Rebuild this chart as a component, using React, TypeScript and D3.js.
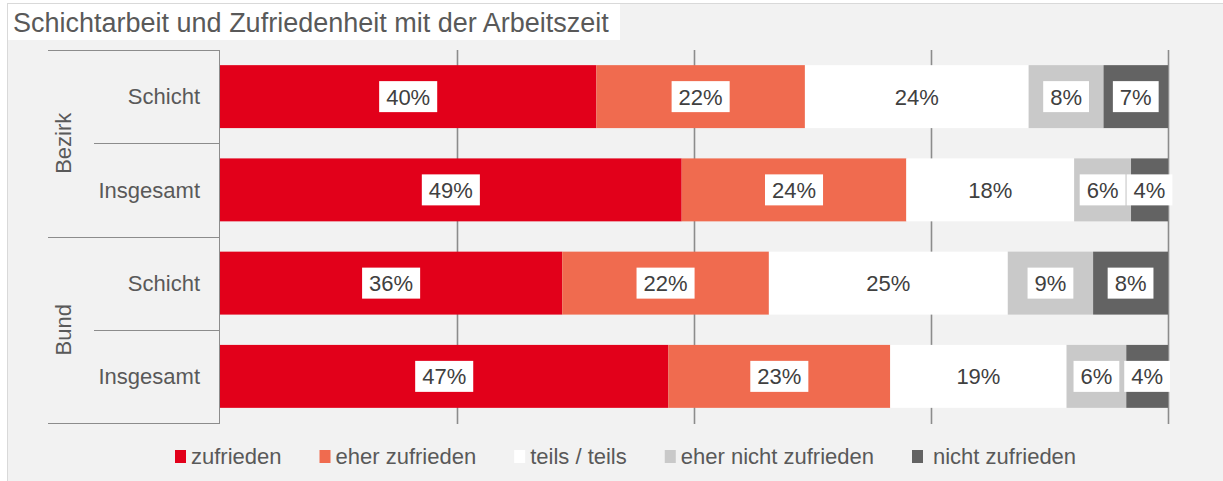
import React, { useEffect, useRef } from "react";
import * as d3 from "d3";

const title = "Schichtarbeit und Zufriedenheit mit der Arbeitszeit";
const groups = ["Bezirk", "Bund"];
const rowGroups = ["Bezirk", "Bezirk", "Bund", "Bund"];
const rowLabels = ["Schicht", "Insgesamt", "Schicht", "Insgesamt"];
const seriesNames = ["zufrieden", "eher zufrieden", "teils / teils", "eher nicht zufrieden", "nicht zufrieden"];
const seriesColors = ["#e2001a", "#f06b4f", "#ffffff", "#c9c9c9", "#636363"];
// values per row (percent), order: zufrieden, eher zufrieden, teils/teils, eher nicht, nicht
const bezirkSchicht = [39.7, 22.0, 23.6, 7.9, 6.8];
const bezirkInsgesamt = [48.7, 23.7, 17.7, 6.0, 3.9];
const bundSchicht = [36.1, 21.8, 25.2, 9.0, 7.9];
const bundInsgesamt = [47.3, 23.4, 18.6, 6.3, 4.4];
const labelsBezirkSchicht = ["40%", "22%", "24%", "8%", "7%"];
const labelsBezirkInsgesamt = ["49%", "24%", "18%", "6%", "4%"];
const labelsBundSchicht = ["36%", "22%", "25%", "9%", "8%"];
const labelsBundInsgesamt = ["47%", "23%", "19%", "6%", "4%"];
const xTicks = [0, 25, 50, 75, 100];

const W = 1223;
const H = 481;
const FONT = "'Liberation Sans', Arial, Helvetica, sans-serif";

export default function App() {
  const ref = useRef<SVGSVGElement | null>(null);

  useEffect(() => {
    const svg = d3.select(ref.current);
    svg.selectAll("*").remove();

    const rowsValues = [bezirkSchicht, bezirkInsgesamt, bundSchicht, bundInsgesamt];
    const rowsLabels = [labelsBezirkSchicht, labelsBezirkInsgesamt, labelsBundSchicht, labelsBundInsgesamt];

    const x = d3.scaleLinear().domain([0, 100]).range([220, 1168]);
    const y = d3
      .scaleBand<number>()
      .domain(d3.range(rowLabels.length))
      .range([50, 423])
      .paddingInner(0.325)
      .paddingOuter(0.1625);
    const step = y.step();

    // background
    svg.append("rect").attr("x", 0).attr("y", 0).attr("width", W).attr("height", H).attr("fill", "#ffffff");
    svg
      .append("rect")
      .attr("x", 7.5)
      .attr("y", 3.5)
      .attr("width", W - 7)
      .attr("height", H - 3)
      .attr("fill", "#f2f2f2")
      .attr("stroke", "#d9d9d9")
      .attr("stroke-width", 1);

    // title
    svg.append("rect").attr("x", 8).attr("y", 4).attr("width", 612).attr("height", 36).attr("fill", "#ffffff");
    svg
      .append("text")
      .attr("x", 13)
      .attr("y", 32)
      .attr("font-family", FONT)
      .attr("font-size", 27)
      .attr("fill", "#595959")
      .text(title);

    // gridlines
    svg
      .append("g")
      .selectAll("line")
      .data(xTicks.slice(1))
      .join("line")
      .attr("x1", (d) => x(d) + 0.5)
      .attr("x2", (d) => x(d) + 0.5)
      .attr("y1", 50)
      .attr("y2", 424)
      .attr("stroke", "#8c8c8c")
      .attr("stroke-width", 1.6);

    // category axis
    const ax = svg.append("g").attr("stroke", "#8c8c8c").attr("stroke-width", 1);
    ax.append("line").attr("x1", 219.5).attr("x2", 219.5).attr("y1", 50).attr("y2", 423.5);
    const r0 = y.range()[0];
    for (let i = 0; i <= rowLabels.length; i++) {
      const yy = Math.round(r0 + i * step) + 0.5;
      const isGroupEdge = i === 0 || i === rowLabels.length || rowGroups[i] !== rowGroups[i - 1];
      ax.append("line")
        .attr("x1", isGroupEdge ? 48 : 94)
        .attr("x2", 220)
        .attr("y1", yy)
        .attr("y2", yy);
    }

    // row labels
    svg
      .append("g")
      .selectAll("text")
      .data(rowLabels)
      .join("text")
      .attr("x", 200)
      .attr("y", (_d, i) => (y(i) as number) + y.bandwidth() / 2)
      .attr("dy", "0.35em")
      .attr("text-anchor", "end")
      .attr("font-family", FONT)
      .attr("font-size", 22)
      .attr("fill", "#595959")
      .text((d) => d);

    // group labels
    groups.forEach((g) => {
      const idx = rowGroups.map((rg, i) => (rg === g ? i : -1)).filter((i) => i >= 0);
      const cy = r0 + ((idx[0] + idx[idx.length - 1] + 1) / 2) * step;
      svg
        .append("text")
        .attr("transform", `translate(63,${cy}) rotate(-90)`)
        .attr("dy", "0.35em")
        .attr("text-anchor", "middle")
        .attr("font-family", FONT)
        .attr("font-size", 22)
        .attr("fill", "#595959")
        .text(g);
    });

    // bars
    const bars = svg.append("g");
    rowsValues.forEach((vals, i) => {
      let acc = 0;
      vals.forEach((v, j) => {
        const x0 = x(acc);
        const x1 = j === vals.length - 1 ? x(100) : x(acc + v);
        bars
          .append("rect")
          .attr("x", x0)
          .attr("y", y(i) as number)
          .attr("width", x1 - x0)
          .attr("height", y.bandwidth())
          .attr("fill", seriesColors[j]);
        acc += v;
      });
    });

    // labels
    const lab = svg.append("g");
    rowsValues.forEach((vals, i) => {
      let acc = 0;
      vals.forEach((v, j) => {
        const end = j === vals.length - 1 ? 100 : acc + v;
        const cx = (x(acc) + x(end)) / 2;
        const cy = (y(i) as number) + y.bandwidth() / 2;
        const gg = lab.append("g");
        const rect = gg.append("rect").attr("fill", "#ffffff");
        const t = gg
          .append("text")
          .attr("x", cx)
          .attr("y", cy)
          .attr("dy", "0.36em")
          .attr("text-anchor", "middle")
          .attr("font-family", FONT)
          .attr("font-size", 22)
          .attr("fill", "#404040")
          .text(rowsLabels[i][j]);
        const tw = (t.node() as SVGTextElement).getComputedTextLength();
        rect
          .attr("x", cx - tw / 2 - 7)
          .attr("y", cy - 15.5)
          .attr("width", tw + 14)
          .attr("height", 31);
        acc += v;
      });
    });

    // legend
    const leg = svg.append("g");
    let lx = 175;
    seriesNames.forEach((name, j) => {
      const isLast = j === seriesNames.length - 1;
      leg
        .append("rect")
        .attr("x", lx)
        .attr("y", 450)
        .attr("width", 11)
        .attr("height", 13)
        .attr("fill", seriesColors[j]);
      const t = leg
        .append("text")
        .attr("x", lx + (isLast ? 21 : 16))
        .attr("y", 456.5)
        .attr("dy", "0.35em")
        .attr("font-family", FONT)
        .attr("font-size", 22)
        .attr("fill", "#595959")
        .text(name);
      const tw = (t.node() as SVGTextElement).getComputedTextLength();
      lx = lx + 16 + tw + 38;
    });
  }, []);

  return (
    <svg
      ref={ref}
      width={W}
      height={H}
      style={{ position: "absolute", left: 0, top: 0, display: "block" }}
    />
  );
}
